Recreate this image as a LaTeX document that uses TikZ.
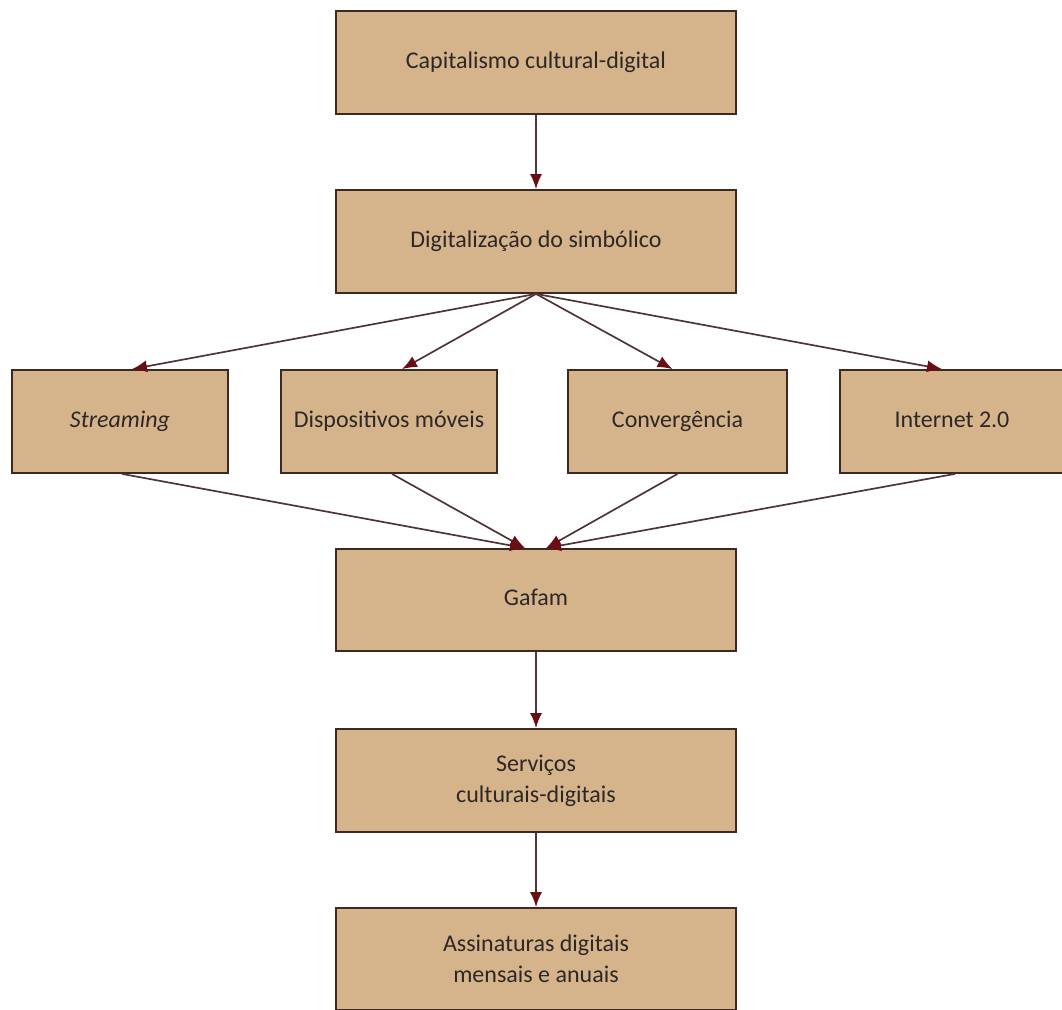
\documentclass[tikz,border=0pt]{standalone}
\usepackage{fontspec}
\setmainfont{Carlito}
\usetikzlibrary{arrows.meta}
\definecolor{boxfill}{RGB}{213,180,140}
\definecolor{boxline}{RGB}{62,40,32}
\definecolor{arrline}{RGB}{80,52,56}
\definecolor{arrhead}{RGB}{105,14,20}
\definecolor{txt}{RGB}{45,40,38}
\tikzset{
  box/.style={draw=boxline, fill=boxfill, line width=1.8pt, rectangle, inner sep=0pt,
    text=txt, align=center, font=\fontsize{24}{31}\selectfont},
  onel/.style={text height=17pt, text depth=6pt},
  conn/.style={draw=arrline, line width=1.7pt,
    -{Latex[length=15pt,width=12pt,color=arrhead]}}
}
\begin{document}
\begin{tikzpicture}[x=1pt,y=-1pt]
\useasboundingbox (0,0) rectangle (1062,1009);
\node[box, onel, minimum width=400pt, minimum height=103pt] (cap) at (536,62.5) {Capitalismo cultural-digital};
\node[box, onel, minimum width=400pt, minimum height=103pt] (dig) at (536,241.5) {Digitalização do simbólico};
\node[box, onel, minimum width=216pt, minimum height=103pt] (str) at (120,421.5) {\itshape Streaming};
\node[box, onel, minimum width=216pt, minimum height=103pt] (dis) at (389,421.5) {Dispositivos móveis};
\node[box, onel, minimum width=219pt, minimum height=103pt] (con) at (677.5,421.5) {Convergência};
\node[box, onel, minimum width=224pt, minimum height=103pt] (int) at (952,421.5) {Internet 2.0};
\node[box, onel, minimum width=400pt, minimum height=102pt] (gaf) at (536,600) {Gafam};
\node[box, minimum width=400pt, minimum height=103pt] (ser) at (536,780.5) {Serviços\\culturais-digitais};
\node[box, minimum width=400pt, minimum height=102pt] (ass) at (536,959) {Assinaturas digitais\\mensais e anuais};
\draw[conn] (cap.south) -- (dig.north);
\draw[conn] (dig.south) -- ([xshift=12pt]str.north);
\draw[conn] (dig.south) -- ([xshift=13pt]dis.north);
\draw[conn] (dig.south) -- ([xshift=-5pt]con.north);
\draw[conn] (dig.south) -- ([xshift=-10pt]int.north);
\draw[conn] ([xshift=2pt]str.south) -- ([xshift=-11pt]gaf.north);
\draw[conn] ([xshift=3pt]dis.south) -- ([xshift=-11pt]gaf.north);
\draw[conn] (con.south) -- ([xshift=10pt]gaf.north);
\draw[conn] ([xshift=3pt]int.south) -- ([xshift=10pt]gaf.north);
\draw[conn] (gaf.south) -- (ser.north);
\draw[conn] (ser.south) -- (ass.north);
\end{tikzpicture}
\end{document}
